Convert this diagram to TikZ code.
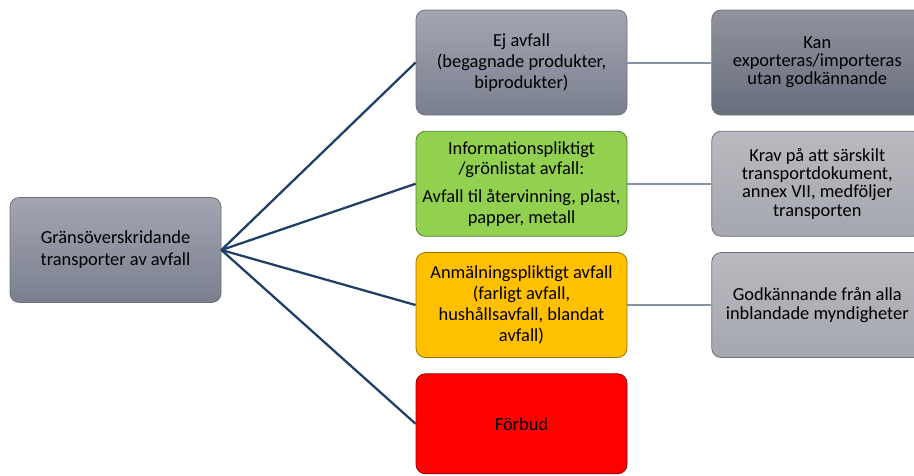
\documentclass[tikz,border=0pt]{standalone}
\usepackage{fontspec}
\setmainfont{Carlito}
\usetikzlibrary{positioning}

\definecolor{linkblue}{HTML}{1F3F66}
\definecolor{linkgray}{HTML}{8693A3}
\definecolor{boxedge}{HTML}{6F7078}
\definecolor{grayhi}{HTML}{A3A6B1}
\definecolor{graylo}{HTML}{7A7F8F}
\definecolor{darkhi}{HTML}{90939D}
\definecolor{darklo}{HTML}{696E7D}
\definecolor{palehi}{HTML}{B9BAC0}
\definecolor{palelo}{HTML}{A5A7AE}
\definecolor{okgreen}{HTML}{92D050}
\definecolor{warnorange}{HTML}{FFC000}
\definecolor{banred}{HTML}{FF0000}

\tikzset{
  box/.style = {shape = rectangle, rounded corners = 7pt, minimum width = 158.25pt, minimum height = 78.75pt, align = center, draw = boxedge, line width = 0.6pt, inner sep = 1pt, font = \fontsize{13.8}{15.6}\selectfont},
  graybox/.style = {box, top color = grayhi, bottom color = graylo},
  darkbox/.style = {box, top color = darkhi, bottom color = darklo, font = \fontsize{13.8}{13.6}\selectfont},
  palebox/.style = {box, top color = palehi, bottom color = palelo, font = \fontsize{13.8}{13.6}\selectfont},
  link/.style = {draw = linkblue, line width = 1.7pt},
  sidelink/.style = {draw = linkgray, line width = 1.5pt}
}

\begin{document}
\begin{tikzpicture}[x = 0.75pt, y = -0.75pt]
\useasboundingbox (0,0) rectangle (914,475);

% root
\node[graybox, font = \fontsize{13.8}{16.5}\selectfont] (root) at (115.5,250) {Gränsöverskridande\\transporter av avfall};

% categories
\node[graybox] (ejavfall) at (521.5,62.5) {Ej avfall\\(begagnade produkter,\\biprodukter)};
\node[box, fill = okgreen, draw = okgreen!60!black, below = 11.6pt of ejavfall] (gron) {Informationspliktigt\\/grönlistat avfall:\\[5pt]Avfall til återvinning, plast,\\papper, metall};
\node[box, fill = warnorange, draw = warnorange!60!black, below = 11.6pt of gron] (anmal) {Anmälningspliktigt avfall\\(farligt avfall,\\hushållsavfall, blandat\\avfall)};
\node[box, fill = banred, draw = banred!60!black, minimum height = 75pt, below = 11.6pt of anmal] (forbud) {Förbud};

% consequences
\node[darkbox, right = 63pt of ejavfall] (utan) {Kan\\exporteras/importeras\\utan godkännande};
\node[palebox, right = 63pt of gron] (krav) {Krav på att särskilt\\transportdokument,\\annex VII, medföljer\\transporten};
\node[palebox, right = 63pt of anmal] (godk) {Godkännande från alla\\inblandade myndigheter};

\foreach \n in {ejavfall, gron, anmal, forbud}
  \draw[link] (root.east) -- (\n.west);

\draw[sidelink] (ejavfall) -- (utan);
\draw[sidelink] (gron) -- (krav);
\draw[sidelink] (anmal) -- (godk);
\end{tikzpicture}
\end{document}
